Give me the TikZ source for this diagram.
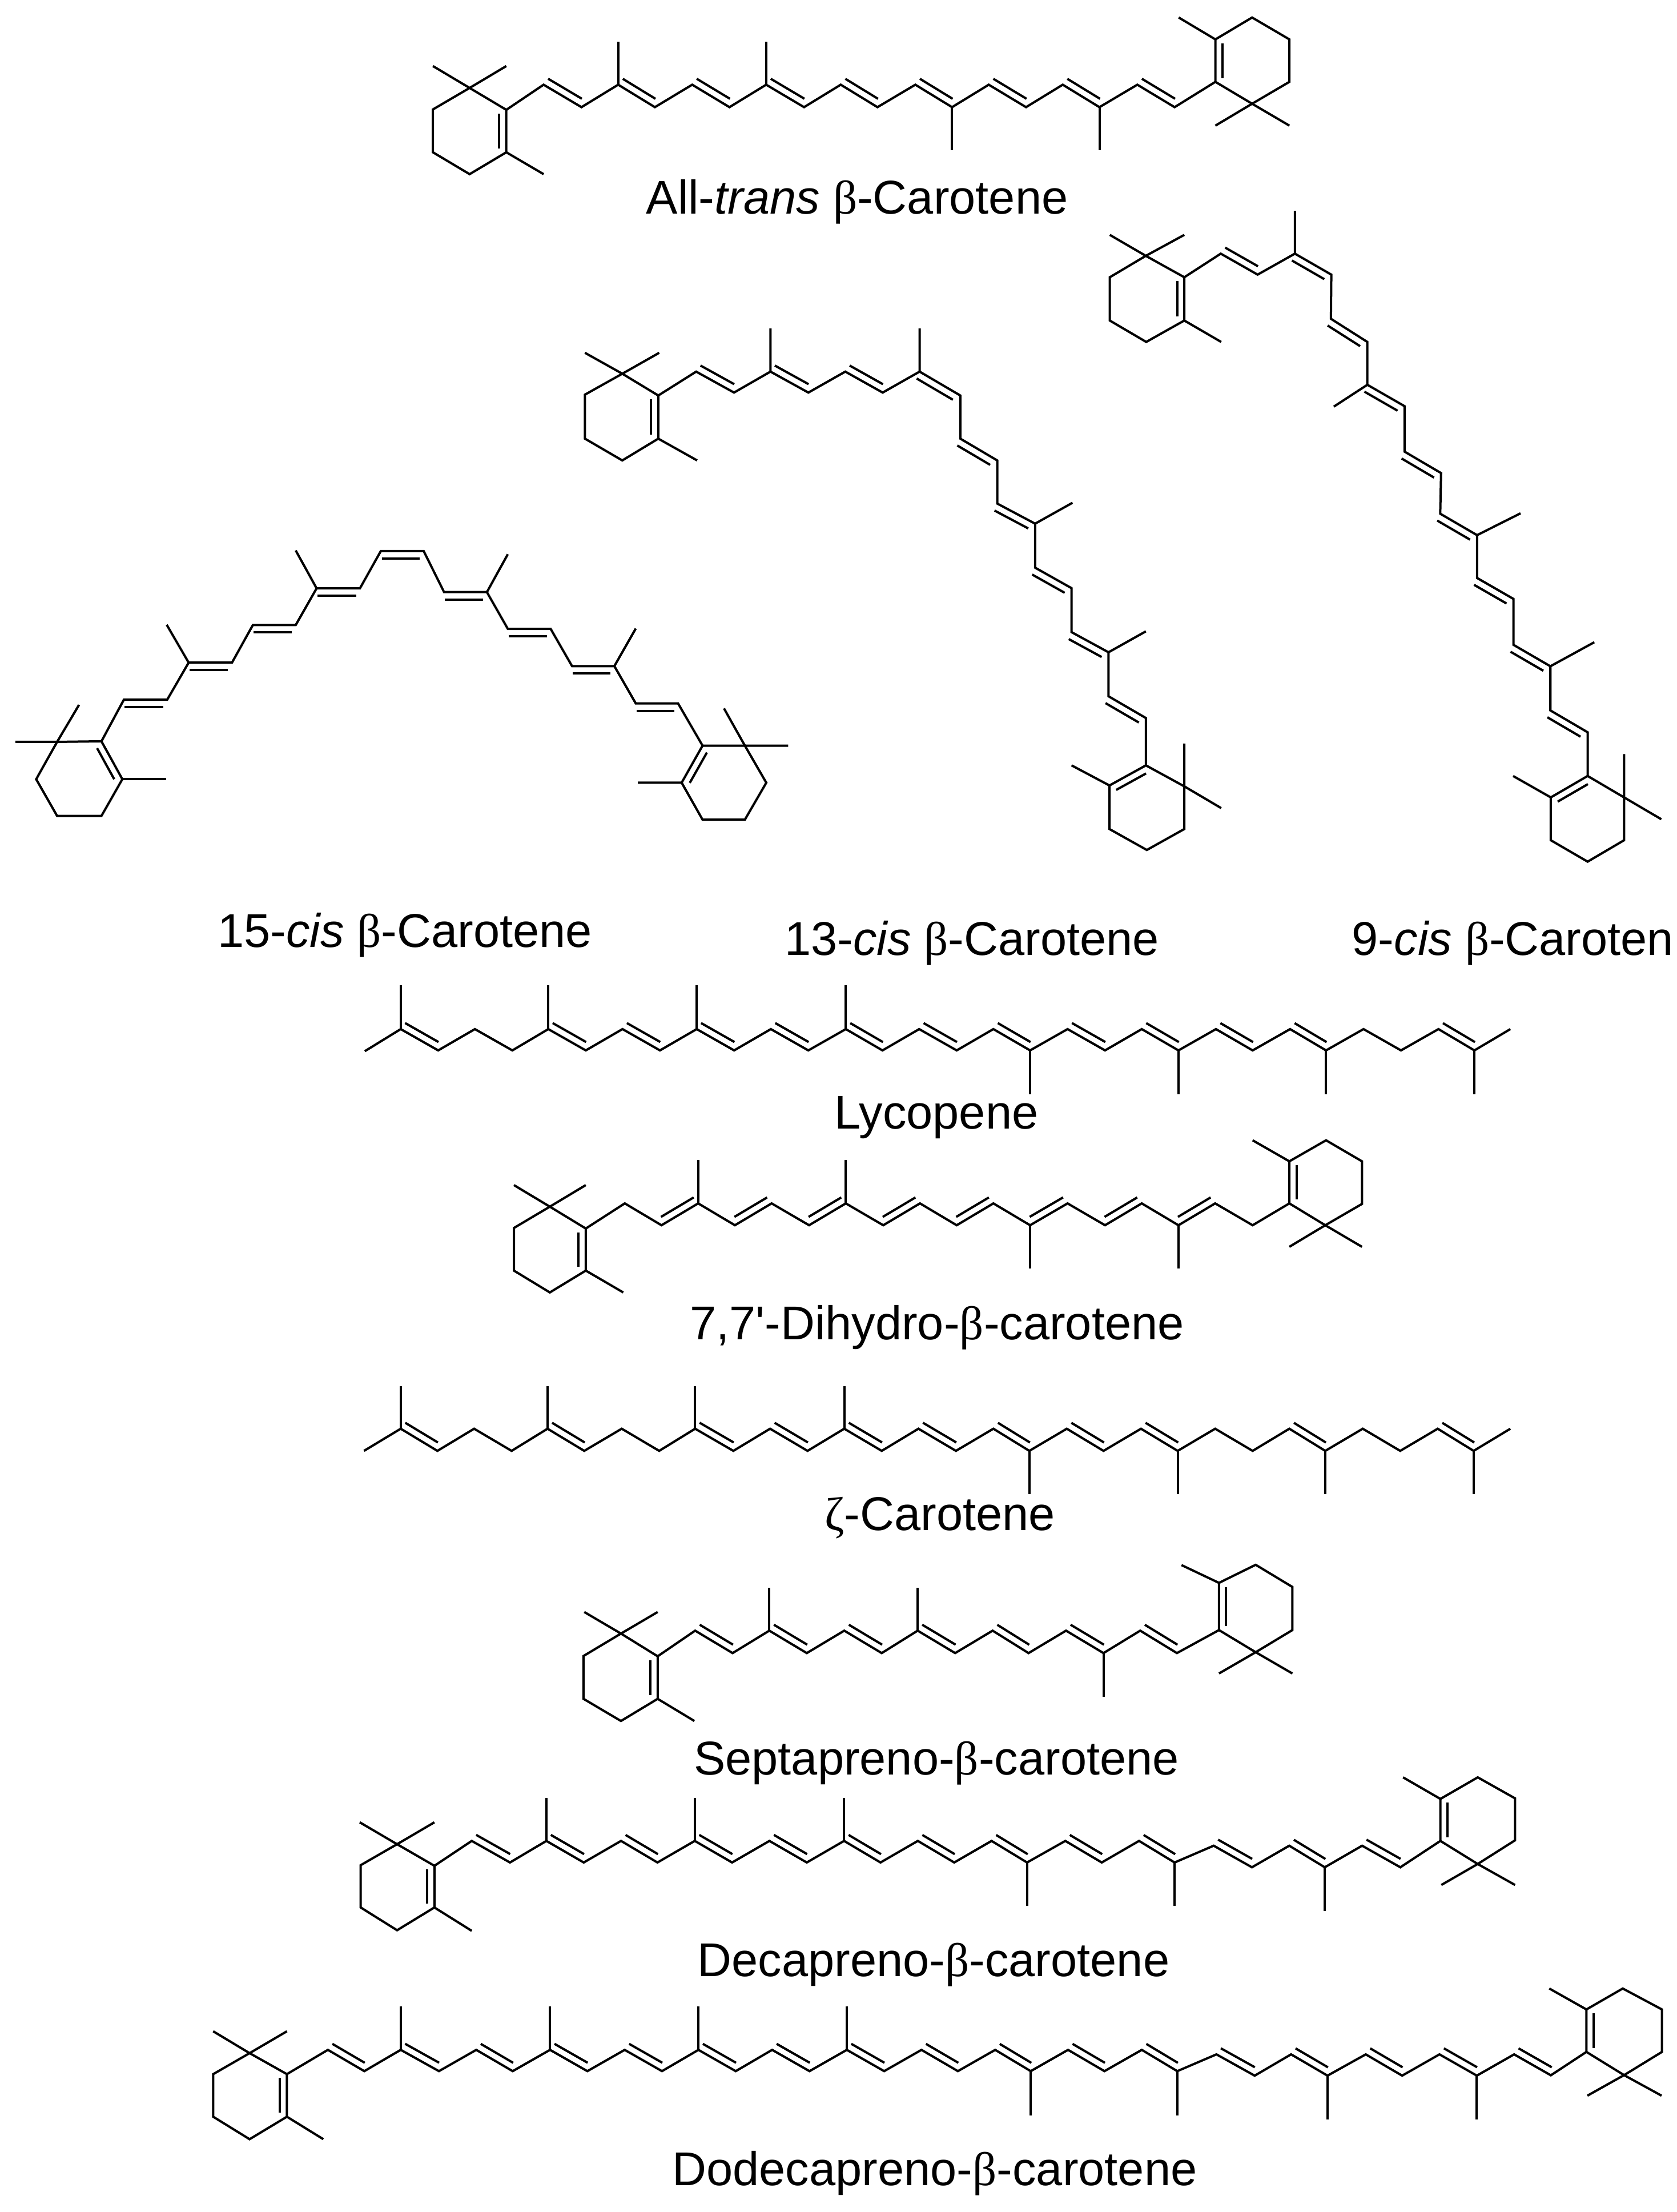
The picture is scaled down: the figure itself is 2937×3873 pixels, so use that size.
\documentclass[tikz,border=0pt]{standalone}
\usepackage{fontspec}
\usetikzlibrary{calc}
\newfontfamily\namefont{Liberation Sans}
\newfontfamily\greekfont{Liberation Serif}
\tikzset{
  bond/.style={line width=.04cm, black},
  molname/.style={anchor=base, inner sep=0pt, font=\namefont\fontsize{23.6}{28}\selectfont}
}
% inner line of a double bond, on the side given by the angle
\newcommand{\dbl}[3][90]{%
  \coordinate (dbA) at (#2);
  \coordinate (dbB) at (#3);
  \draw[bond, reset cm] ($(dbA)!.02!(dbB)!.13cm!#1:(dbB)$) -- ($(dbA)!.91!(dbB)!.13cm!#1:(dbB)$);
}
% same, for the ring bond
\newcommand{\rdbl}[3][90]{%
  \coordinate (dbA) at (#2);
  \coordinate (dbB) at (#3);
  \draw[bond, reset cm] ($(dbA)!.09!(dbB)!.125cm!#1:(dbB)$) -- ($(dbA)!.91!(dbB)!.125cm!#1:(dbB)$);
}
\begin{document}
\begin{tikzpicture}[x=.01cm, y=-.01cm]
\useasboundingbox (0,0) rectangle (2937,3873);
\fill[white] (0,0) rectangle (2937,3873);

% All-trans
\begin{scope}[shift={(700,0)}, xscale=1.0204, yscale=.3333]
\draw[bond] (57,347) -- (120,462) -- (183,347) (120,462) -- (57,575) -- (57,800) -- (120,915) -- (183,800) -- (183,577) -- cycle;
\draw[bond] (183,800) -- (247,915);
\rdbl{183,800}{183,577}
\draw[bond] (183,577) -- (247,445) -- (312,563) -- (375,445) -- (438,563) -- (502,445) -- (566,563) -- (629,445) -- (694,563) -- (757,445) -- (820,563) -- (885,445) -- (948,563) -- (1011,445) -- (1075,563) -- (1138,445) -- (1201,563) -- (1266,445) -- (1330,563) -- (1400,430);
\foreach \xa/\xb in {247/312,375/438,502/566,629/694,757/820,885/948,1011/1075,1138/1201,1266/1330} \dbl{\xa,445}{\xb,563};
\foreach \x in {375,629} \draw[bond] (\x,445) -- (\x,220);
\foreach \x in {948,1201} \draw[bond] (\x,563) -- (\x,790);
\draw[bond] (1400,430) -- (1400,207) -- (1463,92) -- (1527,207) -- (1527,430) -- (1463,545) -- cycle;
\draw[bond] (1400,207) -- (1337,92) (1400,660) -- (1463,545) -- (1527,660);
\rdbl{1400,207}{1400,430}
\end{scope}
\node[molname] (alltrans) at (1501,375) {All-\textit{trans} {\greekfont β}-Carotene};

% 13-cis
\begin{scope}[shift={(900,350)}, xscale=.8291, yscale=.7334]
\draw[bond] (150,365) -- (229,415) -- (307,365) (229,415) -- (150,465) -- (150,570) -- (229,622) -- (305,570) -- (305,467) -- cycle;
\draw[bond] (305,570) -- (387,622);
\rdbl{305,570}{305,467}
\draw[bond] (305,467) -- (385,410) -- (465,460) -- (542,410) -- (622,460) -- (700,410) -- (779,460) -- (857,410) -- (943,467) -- (943,570) -- (1021,622) -- (1021,725) -- (1101,773) -- (1101,878) -- (1178,927) -- (1178,1032) -- (1256,1080) -- (1256,1185) -- (1335,1237) -- (1335,1350);
\foreach \xa/\xb in {385/465,542/622,700/779} \dbl{\xa,410}{\xb,460};
\dbl[-90]{857,410}{943,467}
\dbl[-90]{943,570}{1021,622}
\dbl[-90]{1021,725}{1101,773}
\dbl[-90]{1101,878}{1178,927}
\dbl[-90]{1178,1032}{1256,1080}
\dbl[-90]{1256,1185}{1335,1237}
\draw[bond] (542,410) -- (542,307) (857,410) -- (857,307) (1101,773) -- (1180,723) (1256,1080) -- (1335,1030);
\draw[bond] (1335,1350) -- (1258,1398) -- (1258,1502) -- (1337,1552) -- (1416,1502) -- (1416,1400) -- cycle;
\draw[bond] (1258,1398) -- (1178,1350) (1416,1298) -- (1416,1400) -- (1494,1452);
\rdbl{1335,1350}{1258,1398}
\end{scope}
\node[molname] (cisthirteen) at (1702,1672) {13-\textit{cis} {\greekfont β}-Carotene};

% 9-cis
\begin{scope}[shift={(1800,350)}, xscale=.7252, yscale=.7653]
\draw[bond] (198,80) -- (285,128) -- (378,80) (285,128) -- (198,177) -- (198,276) -- (286,325) -- (378,276) -- (378,177) -- cycle;
\draw[bond] (378,276) -- (467,325);
\rdbl{378,276}{378,177}
\draw[bond] (378,177) -- (466,123) -- (555,171) -- (645,123) -- (733,171) -- (732,272) -- (820,325) -- (820,423) -- (910,472) -- (910,576) -- (998,625) -- (996,718) -- (1085,767) -- (1085,865) -- (1173,913) -- (1173,1018) -- (1262,1067) -- (1262,1168) -- (1352,1218) -- (1352,1318);
\dbl{466,123}{555,171}
\dbl[-90]{645,123}{733,171}
\dbl[-90]{732,272}{820,325}
\dbl[-90]{820,423}{910,472}
\dbl[-90]{910,576}{998,625}
\dbl[-90]{996,718}{1085,767}
\dbl[-90]{1085,865}{1173,913}
\dbl[-90]{1173,1018}{1262,1067}
\dbl[-90]{1262,1168}{1352,1218}
\draw[bond] (645,123) -- (645,25) (820,423) -- (739,473) (1085,767) -- (1190,717) (1262,1067) -- (1368,1012);
\draw[bond] (1352,1318) -- (1263,1367) -- (1263,1465) -- (1352,1514) -- (1440,1465) -- (1440,1367) -- cycle;
\draw[bond] (1263,1367) -- (1172,1318) (1440,1268) -- (1440,1367) -- (1530,1417);
\rdbl{1352,1318}{1263,1367}
\end{scope}
\node[molname, anchor=base west] (cisnine) at (2367,1672) {9-\textit{cis} {\greekfont β}-Caroten};

% 15-cis
\begin{scope}[shift={(0,900)}, xscale=.8929, yscale=.5102]
\draw[bond] (30,782) -- (112,782) -- (155,655) (112,782) -- (71,910) -- (112,1036) -- (199,1036) -- (240,910) -- (199,780) -- cycle;
\draw[bond] (240,910) -- (326,910);
\rdbl{240,910}{199,780}
\draw[bond] (199,780) -- (243,637) -- (328,637) -- (370,510) -- (455,510) -- (496,381) -- (580,381) -- (621,255) -- (706,255) -- (747,127) -- (831,127) -- (871,268) -- (955,268) -- (996,394) -- (1080,394) -- (1122,522) -- (1205,522) -- (1247,650) -- (1330,650) -- (1378,795);
\foreach \xa/\xb/\y in {243/328/637,370/455/510,496/580/381,621/706/255,747/831/127,871/955/268,996/1080/394,1122/1205/522,1247/1330/650} \dbl[-90]{\xa,\y}{\xb,\y};
\draw[bond] (370,510) -- (327,380) (621,255) -- (580,125) (955,268) -- (996,138) (1205,522) -- (1247,393);
\draw[bond] (1378,795) -- (1337,922) -- (1378,1049) -- (1461,1049) -- (1503,922) -- (1461,795) -- cycle;
\draw[bond] (1337,922) -- (1251,922) (1546,795) -- (1461,795) -- (1420,667);
\rdbl{1378,795}{1337,922}
\end{scope}
\node[molname] (cisfifteen) at (709,1658) {15-\textit{cis} {\greekfont β}-Carotene};

% Lycopene
\begin{scope}[shift={(600,1600)}, xscale=1.3393, yscale=.4783]
\draw[bond] (29,503) -- (76,422) -- (125,500) -- (173,422) -- (222,500) -- (269,422) -- (318,500) -- (366,422) -- (415,500) -- (463,422) -- (512,500) -- (560,422) -- (609,500) -- (658,422) -- (706,500) -- (754,422) -- (803,500) -- (851,422) -- (899,500) -- (948,422) -- (997,500) -- (1045,422) -- (1093,500) -- (1142,422) -- (1190,500) -- (1239,422) -- (1286,500) -- (1335,422) -- (1384,500) -- (1433,422) -- (1480,500) -- (1527,422);
\foreach \xa/\xb in {76/125,269/318,366/415,463/512,560/609,658/706,754/803,851/899,948/997,1045/1093,1142/1190,1239/1286,1433/1480} \dbl{\xa,422}{\xb,500};
\foreach \x in {76,269,463,658} \draw[bond] (\x,422) -- (\x,262);
\foreach \x in {899,1093,1286,1480} \draw[bond] (\x,500) -- (\x,660);
\end{scope}
\node[molname] (lycopene) at (1640,1976) {Lycopene};

% 7,7'-Dihydro
\begin{scope}[shift={(600,1600)}, xscale=1.3393, yscale=.4783]
\draw[bond] (224,993) -- (271,1072) -- (318,993) (271,1072) -- (224,1150) -- (224,1306) -- (271,1386) -- (318,1306) -- (318,1152) -- cycle;
\draw[bond] (318,1306) -- (367,1386);
\rdbl{318,1306}{318,1152}
\draw[bond] (318,1152) -- (369,1060) -- (417,1140) -- (465,1060) -- (513,1140) -- (561,1060) -- (610,1140) -- (658,1060) -- (707,1140) -- (755,1060) -- (803,1140) -- (851,1060) -- (899,1140) -- (948,1060) -- (997,1140) -- (1045,1060) -- (1093,1140) -- (1141,1060) -- (1190,1140) -- (1238,1060);
\foreach \xa/\xb in {417/465,513/561,610/658,707/755,803/851,899/948,997/1045,1093/1141} \dbl[-90]{\xb,1060}{\xa,1140};
\foreach \x in {465,658} \draw[bond] (\x,1060) -- (\x,902);
\foreach \x in {899,1093} \draw[bond] (\x,1140) -- (\x,1298);
\draw[bond] (1238,1060) -- (1238,906) -- (1286,829) -- (1333,906) -- (1333,1062) -- (1285,1140) -- cycle;
\draw[bond] (1238,906) -- (1190,829) (1238,1219) -- (1285,1140) -- (1333,1219);
\rdbl{1238,906}{1238,1060}
\end{scope}
\node[molname] (dihydro) at (1641,2345) {7,7'-Dihydro-{\greekfont β}-carotene};

% zeta
\begin{scope}[shift={(600,2350)}, xscale=1.3393, yscale=.5102]
\draw[bond] (28,373) -- (76,297) -- (124,373) -- (172,297) -- (221,373) -- (268,297) -- (316,373) -- (365,297) -- (414,373) -- (461,297) -- (511,373) -- (559,297) -- (608,373) -- (656,297) -- (705,373) -- (753,297) -- (802,373) -- (851,297) -- (898,373) -- (947,297) -- (995,373) -- (1044,297) -- (1092,373) -- (1141,297) -- (1190,373) -- (1238,297) -- (1285,373) -- (1334,297) -- (1383,373) -- (1432,297) -- (1479,373) -- (1527,297);
\foreach \xa/\xb in {76/124,268/316,461/511,559/608,656/705,753/802,851/898,947/995,1044/1092,1238/1285,1432/1479} \dbl{\xa,297}{\xb,373};
\foreach \x in {76,268,461,656} \draw[bond] (\x,297) -- (\x,150);
\foreach \x in {898,1092,1285,1479} \draw[bond] (\x,373) -- (\x,521);
\end{scope}
\node[molname] (zeta) at (1646,2679) {{\greekfont ζ}-Carotene};

% Septapreno
\begin{scope}[shift={(600,2350)}, xscale=1.3393, yscale=.5102]
\draw[bond] (316,926) -- (364,1000) -- (412,926) (364,1000) -- (315,1077) -- (315,1224) -- (364,1300) -- (412,1224) -- (412,1078) -- cycle;
\draw[bond] (412,1224) -- (460,1300);
\rdbl{412,1224}{412,1078}
\draw[bond] (412,1078) -- (461,990) -- (510,1067) -- (558,990) -- (607,1067) -- (656,990) -- (705,1067) -- (752,990) -- (801,1067) -- (850,990) -- (897,1067) -- (946,990) -- (995,1067) -- (1043,990) -- (1091,1067) -- (1146,988);
\foreach \xa/\xb in {461/510,558/607,656/705,752/801,850/897,946/995,1043/1091} \dbl{\xa,990}{\xb,1067};
\foreach \x in {558,752} \draw[bond] (\x,990) -- (\x,843);
\draw[bond] (995,1067) -- (995,1217);
\draw[bond] (1146,988) -- (1146,826) -- (1194,764) -- (1242,840) -- (1242,988) -- (1194,1064) -- cycle;
\draw[bond] (1146,826) -- (1097,765) (1146,1137) -- (1194,1064) -- (1242,1137);
\rdbl{1146,826}{1146,988}
\end{scope}
\node[molname] (septapreno) at (1640,3107) {Septapreno-{\greekfont β}-carotene};

% Decapreno
\begin{scope}[shift={(300,3050)}, xscale=1.5944, yscale=.5249]
\draw[bond] (207,268) -- (248,341) -- (289,268) (248,341) -- (208,411) -- (208,552) -- (248,628) -- (289,552) -- (289,413) -- cycle;
\draw[bond] (289,552) -- (330,630);
\rdbl{289,552}{289,413}
\draw[bond] (289,413) -- (330,330) -- (372,402) -- (412,330) -- (453,402) -- (494,330) -- (534,402) -- (575,330) -- (616,402) -- (657,330) -- (698,402) -- (739,330) -- (779,402) -- (820,330) -- (860,402) -- (901,330) -- (940,402) -- (982,330) -- (1022,402) -- (1063,330) -- (1102,402) -- (1145,346) -- (1187,418) -- (1228,346) -- (1267,418) -- (1308,346) -- (1350,418) -- (1394,330);
\foreach \xa/\xb in {330/372,412/453,494/534,575/616,657/698,739/779,820/860,901/940,982/1022,1063/1102} \dbl{\xa,330}{\xb,402};
\foreach \xa/\xb in {1145/1187,1228/1267,1308/1350} \dbl{\xa,346}{\xb,418};
\foreach \x in {412,575,739} \draw[bond] (\x,330) -- (\x,187);
\foreach \x in {940,1102} \draw[bond] (\x,402) -- (\x,547);
\draw[bond] (1267,418) -- (1267,563);
\draw[bond] (1394,330) -- (1394,190) -- (1435,118) -- (1476,188) -- (1476,328) -- (1435,407) -- cycle;
\draw[bond] (1394,190) -- (1353,118) (1395,477) -- (1435,407) -- (1476,477);
\rdbl{1394,190}{1394,330}
\end{scope}
\node[molname] (decapreno) at (1635,3460) {Decapreno-{\greekfont β}-carotene};

% Dodecapreno
\begin{scope}[shift={(300,3050)}, xscale=1.5944, yscale=.5249]
\draw[bond] (46,965) -- (86,1038) -- (127,965) (86,1038) -- (46,1108) -- (46,1250) -- (86,1325) -- (127,1250) -- (127,1108) -- cycle;
\draw[bond] (127,1250) -- (167,1325);
\rdbl{127,1250}{127,1108}
\draw[bond] (127,1108) -- (172,1027) -- (212,1098) -- (252,1027) -- (294,1098) -- (335,1027) -- (375,1098) -- (416,1027) -- (457,1098) -- (498,1027) -- (539,1098) -- (579,1027) -- (620,1098) -- (660,1027) -- (701,1098) -- (742,1027) -- (783,1098) -- (824,1027) -- (864,1098) -- (905,1027) -- (944,1098) -- (985,1027) -- (1025,1098) -- (1066,1027) -- (1105,1098) -- (1148,1042) -- (1190,1113) -- (1230,1042) -- (1270,1113) -- (1312,1042) -- (1352,1113) -- (1393,1042) -- (1434,1113) -- (1475,1042) -- (1516,1113);
\foreach \xa/\xb in {172/212,252/294,335/375,416/457,498/539,579/620,660/701,742/783,824/864,905/944,985/1025,1066/1105} \dbl{\xa,1027}{\xb,1098};
\foreach \xa/\xb in {1148/1190,1230/1270,1312/1352,1393/1434,1475/1516} \dbl{\xa,1042}{\xb,1113};
\foreach \x in {252,416,579,742} \draw[bond] (\x,1027) -- (\x,882);
\foreach \x in {944,1105} \draw[bond] (\x,1098) -- (\x,1245);
\foreach \x in {1270,1434} \draw[bond] (\x,1113) -- (\x,1259);
\end{scope}
\begin{scope}[shift={(2600,3400)}, xscale=.3333, yscale=.3333]
\draw[bond] (345,703) -- (535,578) -- (535,355) -- (726,245) -- (932,355) -- (932,578) -- (733,700) -- (535,578);
\draw[bond] (535,355) -- (340,245) (540,808) -- (733,700) -- (930,808);
\rdbl{535,355}{535,578}
\end{scope}
\node[molname] (dodecapreno) at (1637,3826) {Dodecapreno-{\greekfont β}-carotene};
\end{tikzpicture}
\end{document}
